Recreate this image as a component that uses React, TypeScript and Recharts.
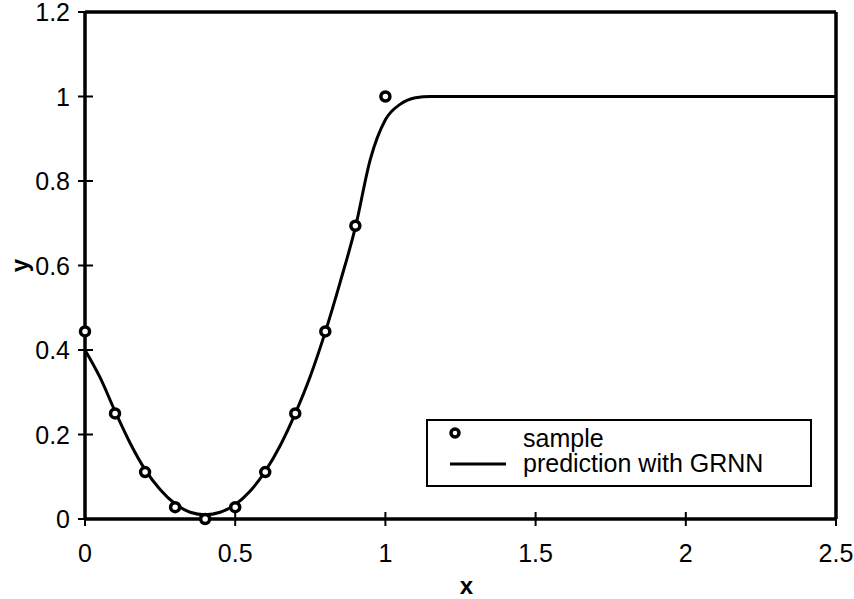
import React from 'react';
import { ComposedChart, Line, Scatter, XAxis, YAxis, ReferenceLine, Legend } from 'recharts';

const sampleX = [0, 0.1, 0.2, 0.3, 0.4, 0.5, 0.6, 0.7, 0.8, 0.9, 1.0];
const sampleY = [0.444, 0.25, 0.111, 0.028, 0, 0.028, 0.111, 0.25, 0.444, 0.694, 1.0];

const predX = [0, 0.05, 0.1, 0.15, 0.2, 0.25, 0.3, 0.35, 0.4, 0.45, 0.5, 0.55, 0.6, 0.65, 0.7, 0.75, 0.8, 0.85, 0.9, 0.95, 1.0, 1.05, 1.1, 1.15, 1.5, 2.0, 2.5];
const predY = [0.4, 0.335, 0.255, 0.18, 0.117, 0.07, 0.036, 0.016, 0.01, 0.016, 0.034, 0.066, 0.113, 0.174, 0.25, 0.338, 0.443, 0.562, 0.69, 0.852, 0.945, 0.982, 0.997, 1.0, 1.0, 1.0, 1.0];

const xTicks = [0, 0.5, 1, 1.5, 2, 2.5];
const yTicks = [0, 0.2, 0.4, 0.6, 0.8, 1, 1.2];

const sampleData = sampleX.map((x, i) => ({ x, y: sampleY[i] }));
const predData = predX.map((x, i) => ({ x, y: predY[i] }));

const FONT = '"Liberation Sans", Arial, sans-serif';

const XTick = (props: any) => {
  const { x, y, payload } = props;
  return (
    <g>
      <line x1={x} x2={x} y1={y - 7} y2={y + 7} stroke="#000" strokeWidth={2} />
      <text x={x} y={y + 43} textAnchor="middle" fontFamily={FONT} fontSize={25} fill="#000">
        {String(payload.value)}
      </text>
    </g>
  );
};

const YTick = (props: any) => {
  const { x, y, payload } = props;
  return (
    <g>
      <line x1={x - 7} x2={x + 8} y1={y} y2={y} stroke="#000" strokeWidth={2} />
      <text x={x - 15} y={y + 9} textAnchor="end" fontFamily={FONT} fontSize={25} fill="#000">
        {String(payload.value)}
      </text>
    </g>
  );
};

const SampleDot = (props: any) => {
  const { cx, cy } = props;
  return <circle cx={cx} cy={cy} r={4.5} fill="#fff" stroke="#000" strokeWidth={3.5} />;
};

const LegendBox = () => (
  <svg width={386} height={68} style={{ display: 'block' }}>
    <rect x={1} y={1} width={384} height={66} fill="#fff" stroke="#000" strokeWidth={2} />
    <circle cx={29} cy={14} r={4} fill="#fff" stroke="#000" strokeWidth={3.5} />
    <line x1={24} x2={80} y1={45} y2={45} stroke="#000" strokeWidth={3} />
    <text x={97} y={28} fontFamily={FONT} fontSize={25} fill="#000">sample</text>
    <text x={97} y={53} fontFamily={FONT} fontSize={25} fill="#000">prediction with GRNN</text>
  </svg>
);

export default function App() {
  return (
    <div style={{ position: 'absolute', left: 0, top: 0, width: 854, height: 599, background: '#fff' }}>
      <ComposedChart width={854} height={599} margin={{ top: 12, right: 18, bottom: 0, left: 0 }}>
        <XAxis
          dataKey="x"
          type="number"
          domain={[0, 2.5]}
          ticks={xTicks}
          height={80}
          tickSize={0}
          tickMargin={0}
          tick={<XTick />}
          axisLine={{ stroke: '#000', strokeWidth: 3.5 }}
          tickLine={false}
          interval={0}
          label={(p: any) => {
            const vb = p.viewBox || { x: 85, y: 519, width: 751, height: 80 };
            return (
              <text x={vb.x + vb.width / 2 + 6} y={vb.y + 75} textAnchor="middle" fontFamily={FONT} fontWeight="bold" fontSize={24} fill="#000">
                x
              </text>
            );
          }}
        />
        <YAxis
          dataKey="y"
          type="number"
          domain={[0, 1.2]}
          ticks={yTicks}
          width={85}
          tickSize={0}
          tickMargin={0}
          tick={<YTick />}
          axisLine={{ stroke: '#000', strokeWidth: 3.5 }}
          tickLine={false}
          interval={0}
          label={(p: any) => {
            const vb = p.viewBox || { x: 0, y: 12, width: 85, height: 507 };
            const cx = vb.x + 28;
            const cy = vb.y + vb.height / 2;
            return (
              <text x={cx} y={cy} transform={`rotate(-90 ${cx} ${cy})`} textAnchor="middle" fontFamily={FONT} fontWeight="bold" fontSize={24} fill="#000">
                y
              </text>
            );
          }}
        />
        <ReferenceLine y={1.2} stroke="#000" strokeWidth={3.5} />
        <ReferenceLine x={2.5} stroke="#000" strokeWidth={3.5} />
        <Line data={predData} dataKey="y" type="monotone" stroke="#000" strokeWidth={3} dot={false} isAnimationActive={false} />
        <Scatter data={sampleData} dataKey="y" shape={<SampleDot />} isAnimationActive={false} />
        <Legend
          layout="horizontal"
          verticalAlign="middle"
          align="center"
          content={() => <LegendBox />}
          wrapperStyle={{ position: 'absolute', left: 426, top: 419, width: 386, height: 68 }}
        />
      </ComposedChart>
    </div>
  );
}
